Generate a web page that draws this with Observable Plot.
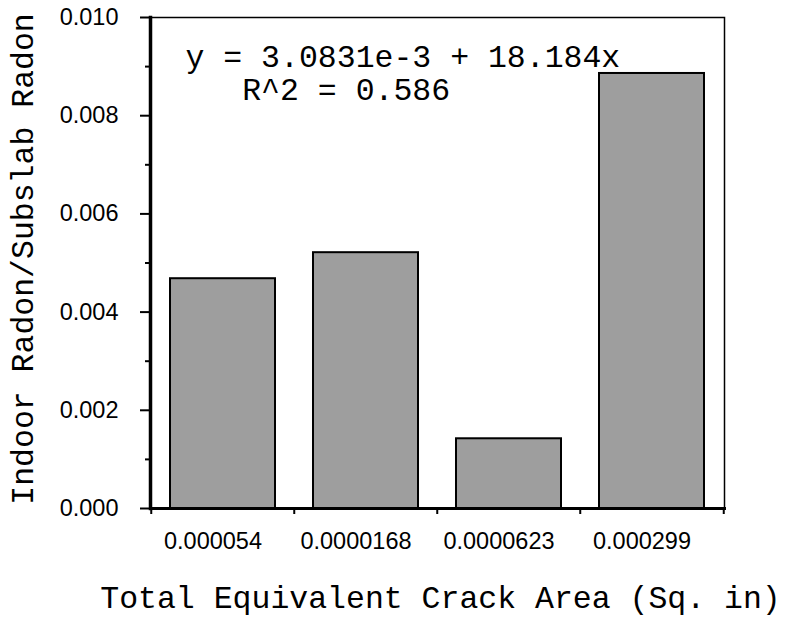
<!DOCTYPE html>
<html>
<head>
<meta charset="utf-8">
<script src="https://cdn.jsdelivr.net/npm/d3@7"></script>
<script src="https://cdn.jsdelivr.net/npm/@observablehq/plot@0.6"></script>
<style>
  html, body { margin: 0; padding: 0; background: #fff; }
</style>
</head>
<body>
<div id="chart"></div>
<script>
// Data
const categories = ["0.000054", "0.0000168", "0.0000623", "0.000299"];
const ratios = [0.00468, 0.00521, 0.00142, 0.00886];
const majorTicks = [0, 0.002, 0.004, 0.006, 0.008, 0.010];
const minorTicks = [0.001, 0.003, 0.005, 0.007, 0.009];
const yTitle = "Indoor Radon/Subslab Radon";
const xTitle = "Total Equivalent Crack Area (Sq. in)";
const eqLine1 = "y = 3.0831e-3 + 18.184x";
const eqLine2 = "R^2 = 0.586";

const rows = categories.map((c, i) => ({area: c, ratio: ratios[i]}));
const equation = eqLine1 + "\n" + "\u00a0\u00a0\u00a0" + eqLine2;

const W = 788, H = 619;
const mL = 150, mR = 64, mT = 17, mB = 111;
const step = (W - mL - mR) / categories.length;
const mono = "'Courier New', 'Liberation Mono', monospace";
const sans = "'Liberation Sans', Arial, sans-serif";

const chart = Plot.plot({
  width: W,
  height: H,
  marginLeft: mL,
  marginRight: mR,
  marginTop: mT,
  marginBottom: mB,
  style: {fontFamily: sans, background: "#fff", color: "#000"},
  x: {domain: categories, paddingInner: 0.264, paddingOuter: 0.132, axis: null},
  y: {domain: [0, 0.010], axis: null},
  marks: [
    Plot.barY(rows, {x: "area", y: "ratio", fill: "#9e9e9e", stroke: "#000", strokeWidth: 2}),
    Plot.frame({stroke: "#000", strokeWidth: 1.5}),
    Plot.frame({anchor: "left", stroke: "#000", strokeWidth: 3.5}),
    Plot.frame({anchor: "bottom", stroke: "#000", strokeWidth: 3}),
    // y axis major ticks with labels
    Plot.axisY({ticks: majorTicks, tickSize: 10, tickPadding: 22, tickFormat: d3.format(".3f"),
      fontSize: 23.5, fontFamily: sans, label: null, strokeWidth: 2}),
    // y axis minor ticks
    Plot.axisY({ticks: minorTicks, tickSize: 5, tickFormat: () => "", label: null, strokeWidth: 2}),
    // x tick labels
    Plot.axisX({tickSize: 0, tickPadding: 24, dx: -10, fontSize: 23.5, fontFamily: sans, label: null}),
    // x band edge ticks
    Plot.axisX({ticks: categories, tickSize: 6, tickFormat: () => "", dx: -step / 2, label: null, strokeWidth: 2}),
    Plot.axisX({ticks: categories.slice(-1), tickSize: 6, tickFormat: () => "", dx: step / 2, label: null, strokeWidth: 2}),
    // equation annotation (two lines, one text)
    Plot.text([equation], {frameAnchor: "top-left", text: d => d, textAnchor: "start", lineAnchor: "top",
      lineHeight: 1.05, dx: 35, dy: 26, fontSize: 31.5, fontFamily: mono, fill: "#000"}),
    // axis titles
    Plot.text([yTitle], {frameAnchor: "left", text: d => d, rotate: -90, textAnchor: "middle", lineAnchor: "bottom",
      dx: -118, dy: -4, fontSize: 31.5, fontFamily: mono, fill: "#000"}),
    Plot.text([xTitle], {frameAnchor: "bottom", text: d => d, textAnchor: "middle", lineAnchor: "bottom",
      dx: 3, dy: 99, fontSize: 31.5, fontFamily: mono, fill: "#000"})
  ]
});
document.getElementById("chart").appendChild(chart);
</script>
</body>
</html>
